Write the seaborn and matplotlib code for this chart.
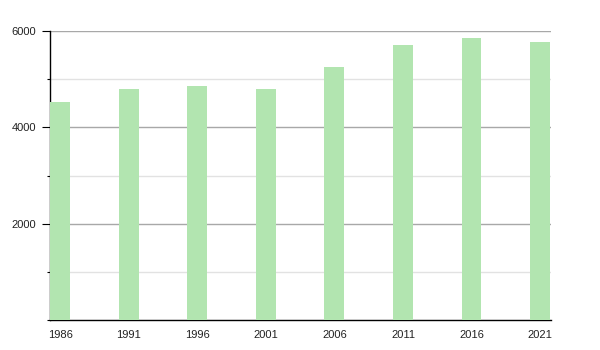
import matplotlib
matplotlib.use("Agg")
import matplotlib.pyplot as plt
import seaborn as sns
import pandas as pd
from matplotlib.ticker import MultipleLocator

years = ["1986", "1991", "1996", "2001", "2006", "2011", "2016", "2021"]
population = [4525, 4795, 4858, 4792, 5252, 5709, 5854, 5771]

sns.set_theme(style="white")
plt.rcParams['font.family'] = ['Liberation Sans', 'DejaVu Sans']

df = pd.DataFrame({"year": years, "pop": population})

fig = plt.figure(figsize=(6, 3.5), dpi=100)
ax = fig.add_axes([50/600, 30/350, 501/600, 289/350])

sns.barplot(data=df, x="year", y="pop", color="#b2e5b0", saturation=1,
            width=0.29, ax=ax, zorder=3, linewidth=0, edgecolor="none")

ax.set_xlim(-0.15, 7.16)
ax.set_ylim(0, 6000)
ax.yaxis.set_major_locator(MultipleLocator(2000))
ax.yaxis.set_minor_locator(MultipleLocator(1000))
ax.set_yticks([2000, 4000, 6000])
ax.set_yticklabels(["2000", "4000", "6000"])
ax.grid(axis="y", which="major", color="#a8a8a8", linewidth=1, zorder=0)
ax.grid(axis="y", which="minor", color="#e2e2e2", linewidth=1, zorder=0)
ax.set_axisbelow(True)

for s in ["top", "right"]:
    ax.spines[s].set_visible(False)
for s in ["left", "bottom"]:
    ax.spines[s].set_color("black")
    ax.spines[s].set_linewidth(1)

ax.tick_params(axis="y", which="major", left=True, length=6, width=0.8,
               color="black", labelsize=8, pad=4, labelcolor="#222222")
ax.tick_params(axis="y", which="minor", left=True, length=2.5, width=0.8,
               color="black")
ax.tick_params(axis="x", bottom=False, labelsize=8, pad=1, labelcolor="#222222")
ax.set_xlabel("")
ax.set_ylabel("")

fig.savefig("out.png", dpi=100)
